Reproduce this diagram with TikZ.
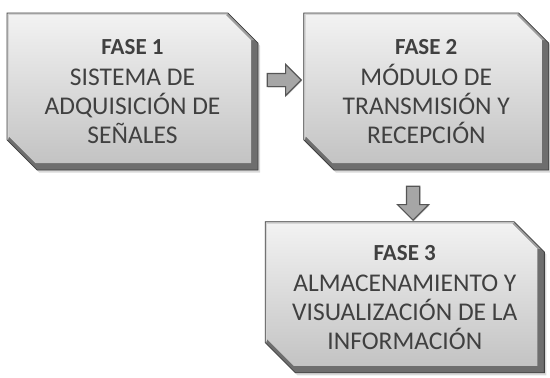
\documentclass[tikz,border=0pt]{standalone}
\usepackage{fontspec}
\setmainfont{Carlito}
\usetikzlibrary{positioning,calc,shapes.misc,shapes.arrows,shadows}
\definecolor{borde}{HTML}{404040}
\definecolor{biselOscuro}{HTML}{6E6E6E}
\definecolor{biselMedio}{HTML}{9C9C9C}
\definecolor{biselClaro}{HTML}{D4D4D4}
\definecolor{caraArriba}{HTML}{F2F2F2}
\definecolor{caraAbajo}{HTML}{C3C3C3}
\definecolor{flechaGris}{HTML}{A6A6A6}
\definecolor{flechaBorde}{HTML}{555555}
\tikzset{
  fase/.style={chamfered rectangle,
    chamfered rectangle corners={north east,south west},
    chamfered rectangle xsep=27pt,
    draw=borde, line width=.8pt, fill=biselOscuro,
    drop shadow={shadow xshift=2pt,shadow yshift=-2.5pt,opacity=.3},
    align=center, text=black!75, inner sep=0pt,
    font=\fontsize{25.5}{29}\selectfont,
    path picture={
      % bisel claro arriba e izquierda
      \fill[biselClaro] let \p1=(path picture bounding box.north west),
        \p2=(path picture bounding box.south east) in
        (\x1,\y1) -- (\x2-27pt,\y1) -- (\x2-32pt,\y1-2pt) -- (\x1+2pt,\y1-2pt)
        -- (\x1+2pt,\y2+33.5pt) -- (\x1,\y2+27pt) -- cycle;
      % esquina superior derecha
      \fill[biselMedio] let \p1=(path picture bounding box.north west),
        \p2=(path picture bounding box.south east) in
        (\x2-27pt,\y1) -- (\x2,\y1-27pt) -- (\x2-7pt,\y1-27pt)
        -- (\x2-32pt,\y1-2pt) -- cycle;
      % cara
      \shade[top color=caraArriba, bottom color=caraAbajo]
        let \p1=(path picture bounding box.north west),
        \p2=(path picture bounding box.south east) in
        (\x1+2pt,\y1-2pt) -- (\x2-32pt,\y1-2pt) -- (\x2-7pt,\y1-27pt)
        -- (\x2-7pt,\y2+7pt) -- (\x1+28.5pt,\y2+7pt) -- (\x1+2pt,\y2+33.5pt) -- cycle;
    }},
  flecha/.style={single arrow, single arrow head extend=9pt,
    inner sep=6pt, minimum height=34pt,
    fill=flechaGris, draw=flechaBorde, line width=1.2pt,
    drop shadow={shadow xshift=1pt,shadow yshift=-1pt,opacity=.25}}
}
\newcommand{\fase}[1]{{\bfseries\fontsize{23}{29}\selectfont FASE #1}\\[2.5pt]}
\begin{document}
\begin{tikzpicture}
\useasboundingbox (0,0) rectangle (550pt,-378pt);

\node[fase, minimum width=251pt, minimum height=157pt] (f1) at (132.5pt,-91.5pt)
  {\fase{1}SISTEMA DE\\ADQUISICIÓN DE\\SEÑALES};
\node[fase, minimum width=245pt, minimum height=157pt, right=45pt of f1] (f2)
  {\fase{2}MÓDULO DE\\TRANSMISIÓN Y\\RECEPCIÓN};
\node[fase, minimum width=278pt, minimum height=151pt, below=51pt of f2, xshift=-21.5pt] (f3)
  {\fase{3}ALMACENAMIENTO Y\\VISUALIZACIÓN DE LA\\INFORMACIÓN};

% flechas entre fases
\node[flecha] (a12) at ($(f1.east)!.5!(f2.west)+(0,11.5pt)$) {};
\node[flecha, shape border rotate=270] (a23) at ($(f2.south)!.5!(f3.north)+(-2.5pt,-4pt)$) {};
\end{tikzpicture}
\end{document}
